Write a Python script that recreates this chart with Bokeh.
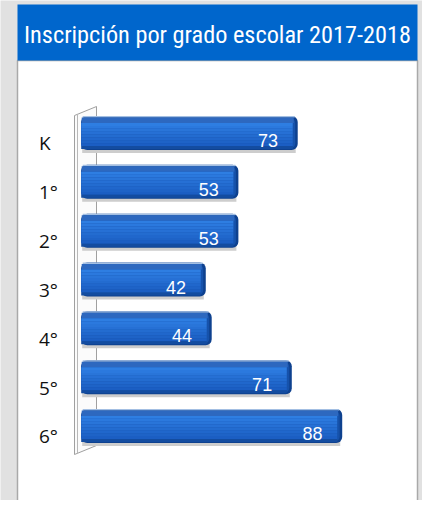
import numpy as np
from bokeh.plotting import figure
from bokeh.models import Range1d
from bokeh.embed import file_html
from bokeh.resources import INLINE
from bokeh.core.properties import value

# ---- data ----
categories = ["K", "1°", "2°", "3°", "4°", "5°", "6°"]
enrollment = [73, 53, 53, 42, 44, 71, 88]
title_text = "Inscripción por grado escolar 2017-2018"

# ---- layout (picture pixels) ----
W, H = 422, 500
X0_PX = 80.7          # x where value 0 sits
PX_PER_UNIT = 2.966   # px per enrolment unit
Y0_PX = 133.5         # y of first category centre
PX_PER_CAT = 48.83    # px between categories
TXT_SHIFT = 0.37      # baseline correction, in font sizes


def dx(px):
    return (px - X0_PX) / PX_PER_UNIT


def dy(py):
    return (py - Y0_PX) / PX_PER_CAT


p = figure(width=W, height=H,
           x_range=Range1d(dx(0), dx(W)),
           y_range=Range1d(dy(H), dy(0)),
           x_axis_location=None, y_axis_location=None,
           output_backend="svg", toolbar_location=None,
           min_border=0, background_fill_color="#e1e1e1",
           border_fill_color="#e1e1e1", outline_line_color=None)
p.grid.visible = False

# panel + title bar
p.quad(left=dx(17), right=dx(417), top=dy(60), bottom=dy(540),
       fill_color="white", line_color="#a9a9a9", line_width=1.5)
p.quad(left=dx(17), right=dx(417), top=dy(4), bottom=dy(60),
       fill_color="#0066cc", line_color=None)

# 3D axis wall
p.patch(x=[dx(74), dx(96), dx(96), dx(74)],
        y=[dy(115), dy(106), dy(445), dy(454)],
        fill_color="#fbfbfb", line_color="#a0a0a0", line_width=1)
p.line(x=[dx(77), dx(77)], y=[dy(114), dy(453)], line_color="#b8b8b8", line_width=1)

idx = np.arange(len(categories))
vals = np.array(enrollment, dtype=float)


def strip(y0, y1, trim_px, color, left_px=0.0, **kw):
    p.hbar(y=idx + (y0 + y1) / 2 / PX_PER_CAT, height=(y1 - y0) / PX_PER_CAT,
           left=left_px / PX_PER_UNIT, right=vals - trim_px / PX_PER_UNIT,
           fill_color=color, line_color=None, **kw)


def lerp(c1, c2, t):
    a = [int(c1[i:i + 2], 16) for i in (1, 3, 5)]
    b = [int(c2[i:i + 2], 16) for i in (1, 3, 5)]
    return "#" + "".join(f"{int(round(a[k] + (b[k] - a[k]) * t)):02x}" for k in range(3))


# shadow
strip(14, 19, 2, "#cdcdcd", left_px=1)
# dark silhouette (right end shading)
strip(-18, 16, 0, "#0e418f", border_radius=6)
strip(-16, 14.5, 2.5, "#1652ab", border_radius=5)
# top rim and top face
strip(-18, -16.5, 3, "#a3bfe3", left_px=1.5)
strip(-16.5, -11, 4, "#2d68bf", left_px=0.5)
# front face gradient
n_steps = 8
edges = np.linspace(-11, 12, n_steps + 1)
for k in range(n_steps):
    strip(edges[k], edges[k + 1], 5, lerp("#2e7ee2", "#1b5ec3", k / (n_steps - 1)))
strip(12, 15, 5, "#134ca0")

# value labels
VAL_FS = 18
p.text(x=vals - 10, y=idx + (13.2 - TXT_SHIFT * VAL_FS) / PX_PER_CAT,
       text=[str(v) for v in enrollment],
       text_align="center", text_baseline="alphabetic", text_color="white",
       text_font=value("Liberation Sans"), text_font_size=f"{VAL_FS}px")

# category labels
CAT_FS = 19
p.text(x=dx(38.5), y=idx + (16.5 - TXT_SHIFT * CAT_FS) / PX_PER_CAT, text=categories,
       text_align="left", text_baseline="alphabetic", text_color="#111111",
       text_font=value("Open Sans"), text_font_size=f"{CAT_FS}px")

# title
TTL_FS = 24.3
p.text(x=[dx(217)], y=[dy(43 - TXT_SHIFT * TTL_FS)], text=[title_text],
       text_align="center", text_baseline="alphabetic", text_color="white",
       text_font=value("Roboto Condensed"), text_font_size=f"{TTL_FS}px")

open("out.html", "w").write(file_html(p, INLINE))
